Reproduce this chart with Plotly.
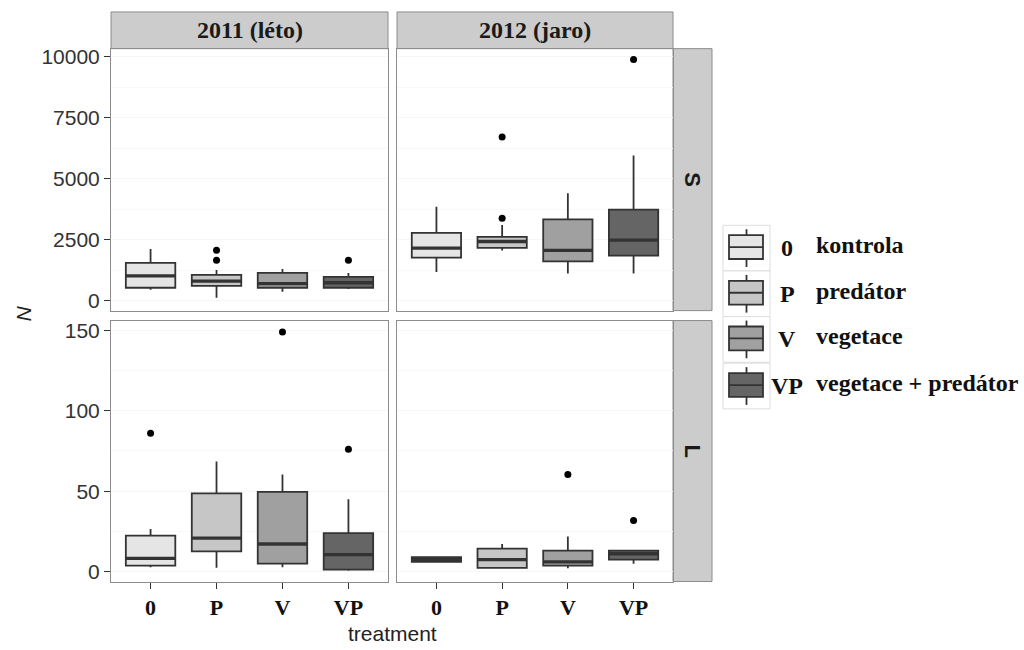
import plotly.graph_objects as go

# ---------------- data ----------------
treatments = ["0", "P", "V", "VP"]
treat_labels = ["kontrola", "predátor", "vegetace", "vegetace + predátor"]
years = ["2011 (léto)", "2012 (jaro)"]
stages = ["S", "L"]

# 2011, S
s2011_lo = [450, 120, 370, 475]
s2011_q1 = [530, 610, 530, 530]
s2011_med = [1016, 800, 700, 732]
s2011_q3 = [1545, 1057, 1138, 975]
s2011_hi = [2114, 1260, 1300, 1138]
s2011_out_t = ["P", "P", "VP"]
s2011_out_v = [2070, 1660, 1660]

# 2012, S
s2012_lo = [1180, 2060, 1110, 1110]
s2012_q1 = [1760, 2167, 1612, 1843]
s2012_med = [2154, 2426, 2060, 2480]
s2012_q3 = [2776, 2614, 3333, 3728]
s2012_hi = [3850, 3100, 4400, 5950]
s2012_out_t = ["P", "P", "VP"]
s2012_out_v = [3374, 6707, 9878]

# 2011, L
l2011_lo = [2.7, 2.3, 2.7, 0.5]
l2011_q1 = [3.7, 12.6, 4.9, 1.2]
l2011_med = [8.2, 20.8, 17.1, 10.5]
l2011_q3 = [22.4, 48.6, 49.6, 23.9]
l2011_hi = [26.5, 68.5, 60.3, 45.0]
l2011_out_t = ["0", "V", "VP"]
l2011_out_v = [86, 149, 76]

# 2012, L
l2012_lo = [5.5, 2.0, 2.0, 4.8]
l2012_q1 = [6.0, 2.3, 3.7, 7.4]
l2012_med = [7.5, 7.4, 6.0, 11.1]
l2012_q3 = [9.0, 14.2, 13.0, 13.0]
l2012_hi = [9.5, 17.1, 21.8, 13.0]
l2012_out_t = ["V", "VP"]
l2012_out_v = [60.3, 31.7]

fills = ["#e5e5e5", "#c6c6c6", "#a0a0a0", "#656565"]
line_col = "#333333"
box_w = 0.75

panels = [
    (0, 0, (s2011_lo, s2011_q1, s2011_med, s2011_q3, s2011_hi), (s2011_out_t, s2011_out_v)),
    (0, 1, (s2012_lo, s2012_q1, s2012_med, s2012_q3, s2012_hi), (s2012_out_t, s2012_out_v)),
    (1, 0, (l2011_lo, l2011_q1, l2011_med, l2011_q3, l2011_hi), (l2011_out_t, l2011_out_v)),
    (1, 1, (l2012_lo, l2012_q1, l2012_med, l2012_q3, l2012_hi), (l2012_out_t, l2012_out_v)),
]

W, H = 1024, 650
def px(x):
    return x / W
def py(y):
    return 1 - y / H

col_px = [(111, 388), (397, 673)]
row_px = [(45, 309), (319, 582)]
strip_top = 8
strip_right = 712

fig = go.Figure()

for idx, (r, c, stats, outs) in enumerate(panels):
    n = idx + 1
    xa = "x" if n == 1 else f"x{n}"
    ya = "y" if n == 1 else f"y{n}"
    lo, q1, med, q3, hi = stats
    for i, t in enumerate(treatments):
        fig.add_trace(go.Box(
            x=[i], q1=[q1[i]], median=[med[i]], q3=[q3[i]],
            lowerfence=[lo[i]], upperfence=[hi[i]],
            width=box_w, whiskerwidth=0, boxpoints=False,
            fillcolor=fills[i], line=dict(color=line_col, width=1.8),
            xaxis=xa, yaxis=ya, showlegend=False, name=t,
        ))
        fig.add_trace(go.Scatter(
            x=[i - box_w / 2, i + box_w / 2], y=[med[i], med[i]],
            mode="lines", line=dict(color=line_col, width=3.4),
            xaxis=xa, yaxis=ya, showlegend=False, hoverinfo="skip",
        ))
    ot, ov = outs
    fig.add_trace(go.Scatter(
        x=[treatments.index(t) for t in ot], y=ov, mode="markers",
        marker=dict(color="black", size=7),
        xaxis=xa, yaxis=ya, showlegend=False,
    ))

layout = dict(
    width=W, height=H, margin=dict(l=0, r=0, t=0, b=0),
    paper_bgcolor="white", plot_bgcolor="white", showlegend=False,
)

yranges = [[-407, 10325], [-6.2, 156.1]]
ydticks = [2500, 50]
for idx, (r, c, _, _) in enumerate(panels):
    n = idx + 1
    xk = "xaxis" if n == 1 else f"xaxis{n}"
    yk = "yaxis" if n == 1 else f"yaxis{n}"
    ya = "y" if n == 1 else f"y{n}"
    xa = "x" if n == 1 else f"x{n}"
    bottom = (r == 1)
    left = (c == 0)
    layout[xk] = dict(
        domain=[px(col_px[c][0]), px(col_px[c][1])],
        anchor=ya, range=[-0.6, 3.6],
        tickvals=[0, 1, 2, 3], ticktext=treatments,
        showticklabels=bottom, ticks="outside" if bottom else "",
        ticklen=6, tickcolor="#333333",
        tickfont=dict(family="Liberation Serif", size=22, color="#111111", weight="bold"),
        showgrid=False, zeroline=False,
        showline=True, mirror=True, linecolor="#8c8c8c", linewidth=1,
    )
    layout[yk] = dict(
        domain=[py(row_px[r][1]), py(row_px[r][0])],
        anchor=xa, range=yranges[r], dtick=ydticks[r], tick0=0, tickformat="d",
        showticklabels=left, ticks="outside" if left else "",
        ticklen=6, tickcolor="#333333",
        tickfont=dict(family="Liberation Sans", size=21, color="#333333"),
        showgrid=True, gridcolor="#f6f6f6", gridwidth=1,
        minor=dict(dtick=ydticks[r] / 2, showgrid=True, gridcolor="#f8f8f8", gridwidth=1),
        zeroline=False,
        showline=True, mirror=True, linecolor="#8c8c8c", linewidth=1,
    )

shapes = []
annotations = []
strip_font = dict(family="Liberation Serif", size=24, color="#1a1a1a", weight="bold")
for c in range(2):
    shapes.append(dict(type="rect", xref="paper", yref="paper",
                       x0=px(col_px[c][0]), x1=px(col_px[c][1]),
                       y0=py(row_px[0][0]), y1=py(strip_top),
                       fillcolor="#cccccc", line=dict(color="#8c8c8c", width=1), layer="below"))
    annotations.append(dict(xref="paper", yref="paper",
                            x=(px(col_px[c][0]) + px(col_px[c][1])) / 2,
                            y=(py(row_px[0][0]) + py(strip_top)) / 2,
                            xanchor="center", yanchor="middle",
                            text=years[c], showarrow=False, font=strip_font))
for r in range(2):
    shapes.append(dict(type="rect", xref="paper", yref="paper",
                       x0=px(col_px[1][1]), x1=px(strip_right),
                       y0=py(row_px[r][1]), y1=py(row_px[r][0]),
                       fillcolor="#cccccc", line=dict(color="#8c8c8c", width=1), layer="below"))
    annotations.append(dict(xref="paper", yref="paper",
                            x=(px(col_px[1][1]) + px(strip_right)) / 2,
                            y=(py(row_px[r][1]) + py(row_px[r][0])) / 2,
                            xanchor="center", yanchor="middle",
                            text=stages[r], showarrow=False, textangle=90,
                            font=dict(family="Liberation Sans", size=22, color="#1a1a1a", weight="bold")))

annotations.append(dict(xref="paper", yref="paper", x=px(392), y=py(634),
                        xanchor="center", yanchor="middle",
                        text="treatment", showarrow=False,
                        font=dict(family="Liberation Sans", size=21, color="#222222")))
annotations.append(dict(xref="paper", yref="paper", x=px(24), y=py(312),
                        xanchor="center", yanchor="middle",
                        text="<i>N</i>", showarrow=False, textangle=-90,
                        font=dict(family="Liberation Sans", size=21, color="#222222")))

key_x0, key_x1 = 723, 770
key_tops = [223, 269, 315, 362]
key_h = 46
leg_font = dict(family="Liberation Serif", size=24, color="#111111", weight="bold")
for i, t in enumerate(treatments):
    top = key_tops[i]
    bot = top + key_h
    shapes.append(dict(type="rect", xref="paper", yref="paper",
                       x0=px(key_x0), x1=px(key_x1), y0=py(bot), y1=py(top),
                       fillcolor="white", line=dict(color="#dddddd", width=1)))
    cx = (key_x0 + key_x1) / 2
    shapes.append(dict(type="line", xref="paper", yref="paper",
                       x0=px(cx), x1=px(cx), y0=py(bot - 4), y1=py(top + 4),
                       line=dict(color=line_col, width=1.8)))
    shapes.append(dict(type="rect", xref="paper", yref="paper",
                       x0=px(key_x0 + 6), x1=px(key_x1 - 7),
                       y0=py(top + 34), y1=py(top + 10),
                       fillcolor=fills[i], line=dict(color=line_col, width=1.8)))
    shapes.append(dict(type="line", xref="paper", yref="paper",
                       x0=px(key_x0 + 6), x1=px(key_x1 - 7),
                       y0=py(top + 22), y1=py(top + 22),
                       line=dict(color=line_col, width=1.8)))
    annotations.append(dict(xref="paper", yref="paper", x=px(787), y=py(top + 23),
                            xanchor="center", yanchor="middle",
                            text=t, showarrow=False, font=leg_font))
    annotations.append(dict(xref="paper", yref="paper", x=px(814), y=py(top + 20),
                            xanchor="left", yanchor="middle",
                            text=treat_labels[i], showarrow=False, font=leg_font))

layout["shapes"] = shapes
layout["annotations"] = annotations
fig.update_layout(**layout)

fig.write_html("out.html", config={"displayModeBar": False},
               post_script="document.body.style.margin='0';document.body.style.padding='0';")
